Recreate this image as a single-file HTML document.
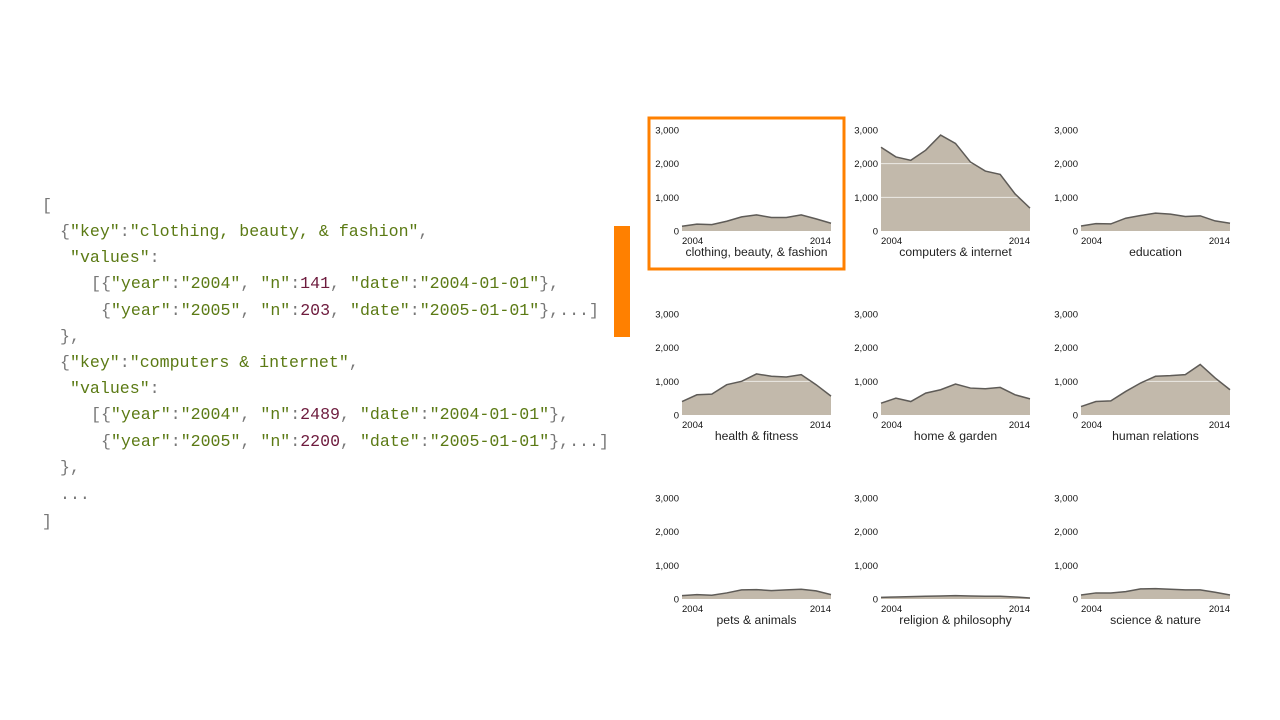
<!DOCTYPE html>
<html><head><meta charset="utf-8"><style>
html,body{margin:0;padding:0;background:#fff;width:1280px;height:720px;overflow:hidden}
svg{display:block}
.code{font-family:"Liberation Mono",monospace;font-size:16.6px}
.s{fill:#5b7a14}.n{fill:#6e1c3e}.p{fill:#777}
.tick{font-family:"Liberation Sans",sans-serif;font-size:9.5px;fill:#111}
.title{font-family:"Liberation Sans",sans-serif;font-size:12.2px;fill:#222}
</style></head><body>
<svg id="root" width="1280" height="720" xmlns="http://www.w3.org/2000/svg">
<g class="code" xml:space="preserve">
<text x="42" y="210" class="p">[</text>
<text x="60" y="236"><tspan class="p">{</tspan><tspan class="s">"key"</tspan><tspan class="p">:</tspan><tspan class="s">"clothing, beauty, &amp; fashion"</tspan><tspan class="p">,</tspan></text>
<text x="70" y="262"><tspan class="s">"values"</tspan><tspan class="p">:</tspan></text>
<text x="91" y="288"><tspan class="p">[{</tspan><tspan class="s">"year"</tspan><tspan class="p">:</tspan><tspan class="s">"2004"</tspan><tspan class="p">, </tspan><tspan class="s">"n"</tspan><tspan class="p">:</tspan><tspan class="n">141</tspan><tspan class="p">, </tspan><tspan class="s">"date"</tspan><tspan class="p">:</tspan><tspan class="s">"2004-01-01"</tspan><tspan class="p">},</tspan></text>
<text x="101" y="315"><tspan class="p">{</tspan><tspan class="s">"year"</tspan><tspan class="p">:</tspan><tspan class="s">"2005"</tspan><tspan class="p">, </tspan><tspan class="s">"n"</tspan><tspan class="p">:</tspan><tspan class="n">203</tspan><tspan class="p">, </tspan><tspan class="s">"date"</tspan><tspan class="p">:</tspan><tspan class="s">"2005-01-01"</tspan><tspan class="p">},...]</tspan></text>
<text x="60" y="341" class="p">},</text>
<text x="60" y="367"><tspan class="p">{</tspan><tspan class="s">"key"</tspan><tspan class="p">:</tspan><tspan class="s">"computers &amp; internet"</tspan><tspan class="p">,</tspan></text>
<text x="70" y="393"><tspan class="s">"values"</tspan><tspan class="p">:</tspan></text>
<text x="91" y="419"><tspan class="p">[{</tspan><tspan class="s">"year"</tspan><tspan class="p">:</tspan><tspan class="s">"2004"</tspan><tspan class="p">, </tspan><tspan class="s">"n"</tspan><tspan class="p">:</tspan><tspan class="n">2489</tspan><tspan class="p">, </tspan><tspan class="s">"date"</tspan><tspan class="p">:</tspan><tspan class="s">"2004-01-01"</tspan><tspan class="p">},</tspan></text>
<text x="101" y="446"><tspan class="p">{</tspan><tspan class="s">"year"</tspan><tspan class="p">:</tspan><tspan class="s">"2005"</tspan><tspan class="p">, </tspan><tspan class="s">"n"</tspan><tspan class="p">:</tspan><tspan class="n">2200</tspan><tspan class="p">, </tspan><tspan class="s">"date"</tspan><tspan class="p">:</tspan><tspan class="s">"2005-01-01"</tspan><tspan class="p">},...]</tspan></text>
<text x="60" y="472" class="p">},</text>
<text x="60" y="499" class="p">...</text>
<text x="42" y="526" class="p">]</text>
</g>
<rect x="614" y="226" width="16" height="111" fill="#ff8000"/>
<g id="charts"></g>
<rect x="649" y="118" width="195" height="151" fill="none" stroke="#ff8000" stroke-width="3"/>
</svg>
<script>
const categories = ["clothing, beauty, & fashion","computers & internet","education","health & fitness","home & garden","human relations","pets & animals","religion & philosophy","science & nature"];
const years = [2004,2005,2006,2007,2008,2009,2010,2011,2012,2013,2014];
const sClothing = [141,203,190,290,420,480,400,400,480,360,230];
const sComputers = [2489,2200,2100,2400,2850,2600,2050,1780,1680,1100,680];
const sEducation = [150,220,210,380,460,530,500,430,450,300,230];
const sHealth = [400,600,620,900,1000,1220,1150,1130,1200,900,560];
const sHome = [350,500,400,650,750,920,800,780,820,600,480];
const sHuman = [250,400,420,700,950,1150,1170,1200,1500,1100,750];
const sPets = [100,130,110,180,270,280,250,270,290,240,130];
const sReligion = [50,60,70,80,90,100,90,80,80,60,30];
const sScience = [120,180,180,220,300,310,290,270,270,200,120];
const yTicks = [0,1000,2000,3000];
const yTickLabels = ["0","1,000","2,000","3,000"];
const xTickLabels = ["2004","2014"];
const allSeries = [sClothing,sComputers,sEducation,sHealth,sHome,sHuman,sPets,sReligion,sScience];

const NS="http://www.w3.org/2000/svg";
const g=document.getElementById('charts');
function mk(tag,attrs,parent){const e=document.createElementNS(NS,tag);for(const k in attrs)e.setAttribute(k,attrs[k]);parent.appendChild(e);return e;}
const colX=[682,881,1081], rowY=[231,415,599], W=149, H=101, YMAX=3000;
categories.forEach((cat,i)=>{
  const ox=colX[i%3], oy=rowY[Math.floor(i/3)];
  const x=v=>ox+(v-years[0])/(years[years.length-1]-years[0])*W;
  const y=v=>oy-v/YMAX*H;
  const pg=mk('g',{},g);
  
  
  const vals=allSeries[i];
  let d='M'+x(years[0])+','+oy;
  vals.forEach((v,j)=>{d+=' L'+x(years[j])+','+y(v);});
  d+=' L'+x(years[years.length-1])+','+oy+' Z';
  const area=mk('path',{d:d,fill:'#c2b9ab'},pg);
  
  
  yTicks.forEach((t,k)=>{
    if(t>0&&t<YMAX){const gl=mk('line',{x1:ox,x2:ox+W,y1:y(t),y2:y(t),stroke:'#fff','stroke-width':1,opacity:0.7},pg);
      
      }
    const tl=mk('text',{x:ox-3,y:y(t)+3.5,'text-anchor':'end',class:'tick'},pg);
    tl.textContent=yTickLabels[k];
    
    
  });
  let ld='';
  vals.forEach((v,j)=>{ld+=(j?' L':'M')+x(years[j])+','+y(v);});
  const line=mk('path',{d:ld,fill:'none',stroke:'#5e5b57','stroke-width':1.5},pg);
  
  
  const xa=mk('text',{x:ox,y:oy+13,class:'tick'},pg);xa.textContent=xTickLabels[0];
  
  
  const xb=mk('text',{x:ox+W,y:oy+13,'text-anchor':'end',class:'tick'},pg);xb.textContent=xTickLabels[1];
  
  
  const tt=mk('text',{x:ox+W/2,y:oy+25,'text-anchor':'middle',class:'title'},pg);tt.textContent=cat;
  
  
});
</script>
</body></html>
